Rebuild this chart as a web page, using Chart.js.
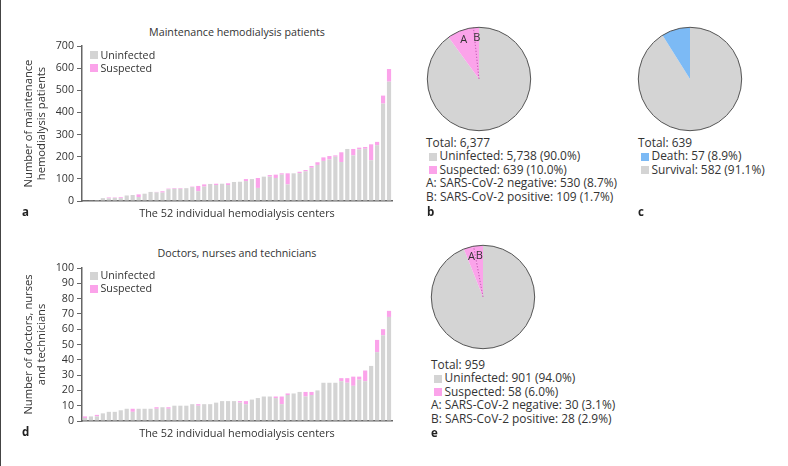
<!DOCTYPE html>
<html>
<head>
<meta charset="utf-8">
<script src="https://cdn.jsdelivr.net/npm/chart.js@4.4.0/dist/chart.umd.min.js"></script>
<style>
  body { margin: 0; background: #fff; }
  #fig { position: relative; width: 788px; height: 466px; overflow: hidden;
         font-family: "Open Sans", sans-serif; color: #333; font-size: 10.7px; }
  .abs { position: absolute; white-space: nowrap; }
  .title { width: 310px; text-align: center; font-size: 10.7px; }
  .lbl { font-weight: bold; font-size: 11.5px; color: #222; }
  .legend { line-height: 13.4px; }
  .pielegend { line-height: 13.4px; font-size: 11.9px; }
  .box { display: inline-block; width: 8px; height: 8px; margin: 0 2.5px 0 3px; vertical-align: -0.5px; }
  .edge { left: 0; top: 0; width: 1px; height: 466px; background: #444; }
</style>
</head>
<body>
<div id="fig">
  <div class="abs edge"></div>

  <div class="abs title" style="left:82px; top:25px;">Maintenance hemodialysis patients</div>
  <canvas id="chart-a" class="abs" style="left:0; top:0;" width="400" height="230"></canvas>
  <div class="abs legend" style="left:87px; top:48.5px;">
    <div><span class="box" style="background:#d4d4d4"></span>Uninfected</div>
    <div><span class="box" style="background:#fba3ea"></span>Suspected</div>
  </div>
  <div class="abs lbl" style="left:22px; top:204px;">a</div>

  <div class="abs title" style="left:82px; top:246px;">Doctors, nurses and technicians</div>
  <canvas id="chart-d" class="abs" style="left:0; top:240px;" width="400" height="210"></canvas>
  <div class="abs legend" style="left:87px; top:269px;">
    <div><span class="box" style="background:#d4d4d4"></span>Uninfected</div>
    <div><span class="box" style="background:#fba3ea"></span>Suspected</div>
  </div>
  <div class="abs lbl" style="left:22px; top:424px;">d</div>

  <canvas id="chart-b" class="abs" style="left:424px; top:24px;" width="110" height="110"></canvas>
  <div class="abs pielegend" style="left:426px; top:136px;">
    <div>Total: 6,377</div>
    <div><span class="box" style="background:#d4d4d4"></span>Uninfected: 5,738 (90.0%)</div>
    <div><span class="box" style="background:#fba3ea"></span>Suspected: 639 (10.0%)</div>
    <div>A: SARS-CoV-2 negative: 530 (8.7%)</div>
    <div>B: SARS-CoV-2 positive: 109 (1.7%)</div>
  </div>
  <div class="abs lbl" style="left:427px; top:204px;">b</div>

  <canvas id="chart-c" class="abs" style="left:635px; top:24px;" width="110" height="110"></canvas>
  <div class="abs pielegend" style="left:638px; top:136px;">
    <div>Total: 639</div>
    <div><span class="box" style="background:#7cbaf5"></span>Death: 57 (8.9%)</div>
    <div><span class="box" style="background:#d4d4d4"></span>Survival: 582 (91.1%)</div>
  </div>
  <div class="abs lbl" style="left:638px; top:204px;">c</div>

  <canvas id="chart-e" class="abs" style="left:428px; top:242px;" width="110" height="110"></canvas>
  <div class="abs pielegend" style="left:431px; top:358px;">
    <div>Total: 959</div>
    <div><span class="box" style="background:#d4d4d4"></span>Uninfected: 901 (94.0%)</div>
    <div><span class="box" style="background:#fba3ea"></span>Suspected: 58 (6.0%)</div>
    <div>A: SARS-CoV-2 negative: 30 (3.1%)</div>
    <div>B: SARS-CoV-2 positive: 28 (2.9%)</div>
  </div>
  <div class="abs lbl" style="left:431px; top:425px;">e</div>
</div>

<script>
(function() {
    'use strict';

    // Panel a: maintenance hemodialysis patients per center (52 centers)
    const patientsUninfected = [2, 3, 4, 13, 12, 14, 13, 25, 27, 18, 33, 41, 39,
        38, 53, 55, 55, 58, 63, 44, 65, 77, 72,
        78, 72, 86, 87, 90, 99, 59, 110, 110, 104,
        119, 75, 125, 126, 134, 150, 163, 181, 188, 200,
        176, 235, 206, 233, 236, 184, 252, 440, 539];
    const patientsSuspected = [0, 0, 0, 0, 4, 2, 4, 0, 0, 12, 0, 0, 2,
        6, 3, 3, 3, 0, 2, 24, 10, 0, 6,
        0, 8, 0, 0, 9, 0, 45, 0, 7, 15,
        6, 50, 0, 6, 6, 8, 12, 16, 15, 6,
        44, 0, 29, 8, 8, 72, 15, 36, 57];

    // Panel d: doctors, nurses and technicians per center
    const staffUninfected = [2, 3, 3, 5, 6, 6, 7, 8, 6, 8, 8, 8, 8, 9, 8, 10, 10, 10,
        11, 10, 11, 11, 12, 13, 13, 13, 12, 11, 14, 15, 16, 16, 15, 11,
        17, 18, 19, 16, 17, 20, 25, 25, 25, 26, 25, 23, 27, 26, 36, 45, 56, 68];
    const staffSuspected = [1, 0, 1, 0, 0, 0, 0, 0, 2, 0, 0, 0, 1, 0, 1, 0, 0, 0,
        0, 1, 0, 0, 0, 0, 0, 0, 1, 2, 0, 0, 0, 0, 1, 5,
        1, 0, 0, 3, 2, 0, 0, 0, 0, 2, 3, 6, 2, 7, 0, 8, 4, 4];

    const centers = patientsUninfected.map((v, i) => 'Center ' + (i + 1));

    // Pie values
    const patientsPie = [5738, 530, 109];   // uninfected, SARS-CoV-2 negative, positive
    const outcomePie = [582, 57];           // survival, death
    const staffPie = [901, 30, 28];

    const GRAY = '#d4d4d4';
    const PINK = '#fba3ea';
    const BLUE = '#7cbaf5';
    const AXIS = '#666';
    const TEXT = '#333';
    const FONT = '"Open Sans", sans-serif';

    Chart.defaults.font.family = FONT;
    Chart.defaults.color = TEXT;

    // Stacked bar chart for one panel
    function createBarChart(id, uninf, susp, yMax, yStep, yTitle, padTop) {
        const ctx = document.getElementById(id);
        return new Chart(ctx, {
            type: 'bar',
            data: {
                labels: centers,
                datasets: [{
                    label: 'Uninfected',
                    data: uninf,
                    backgroundColor: GRAY,
                    barPercentage: 0.7,
                    categoryPercentage: 1
                }, {
                    label: 'Suspected',
                    data: susp,
                    backgroundColor: PINK,
                    barPercentage: 0.7,
                    categoryPercentage: 1
                }]
            },
            options: {
                responsive: false,
                animation: false,
                devicePixelRatio: 1,
                layout: { padding: { top: padTop, right: 8, left: 0, bottom: 0 } },
                plugins: {
                    legend: { display: false },
                    tooltip: { enabled: false }
                },
                scales: {
                    x: {
                        stacked: true,
                        ticks: { display: false },
                        grid: { display: false },
                        border: { color: AXIS, width: 1.5 },
                        title: {
                            display: true,
                            text: 'The 52 individual hemodialysis centers',
                            color: TEXT,
                            font: { size: 10.9, lineHeight: 1.3 },
                            padding: { top: 0, bottom: 9 }
                        },
                        afterFit: function(scale) { scale.height = 29; }
                    },
                    y: {
                        stacked: true,
                        min: 0,
                        max: yMax,
                        ticks: { stepSize: yStep, autoSkip: false, color: TEXT, font: { size: 10.7 }, padding: 3 },
                        grid: { drawOnChartArea: false, drawTicks: true, tickLength: 5, color: AXIS, lineWidth: 1 },
                        border: { color: AXIS, width: 1.5 },
                        title: {
                            display: true,
                            text: yTitle,
                            color: TEXT,
                            font: { size: 11.2, lineHeight: 1.17 },
                            padding: { top: 22.5, bottom: 0 }
                        },
                        afterFit: function(scale) { scale.width = 82; }
                    }
                }
            }
        });
    }

    // Outline, dotted split line and A/B labels for the pies
    const pieDecor = {
        id: 'pieDecor',
        afterDatasetsDraw(chart, args, opts) {
            const arcs = chart.getDatasetMeta(0).data;
            const first = arcs[0];
            const ctx = chart.ctx;
            const r = first.outerRadius;
            ctx.save();
            if (opts.splitIndex != null) {
                const a = arcs[opts.splitIndex].startAngle;
                ctx.setLineDash([1.5, 1.5]);
                ctx.strokeStyle = '#c55bb3';
                ctx.lineWidth = 1;
                ctx.beginPath();
                ctx.moveTo(first.x, first.y);
                ctx.lineTo(first.x + Math.cos(a) * r, first.y + Math.sin(a) * r);
                ctx.stroke();
                ctx.setLineDash([]);
            }
            ctx.strokeStyle = '#555';
            ctx.lineWidth = 1;
            ctx.beginPath();
            ctx.arc(first.x, first.y, r, 0, Math.PI * 2);
            ctx.stroke();
            (opts.labels || []).forEach(function(l) {
                const el = arcs[l.index];
                const mid = (el.startAngle + el.endAngle) / 2;
                ctx.fillStyle = TEXT;
                ctx.font = '11px ' + FONT;
                ctx.textAlign = 'center';
                ctx.textBaseline = 'middle';
                ctx.fillText(l.text, first.x + Math.cos(mid) * r * l.f, first.y + Math.sin(mid) * r * l.f);
            });
            ctx.restore();
        }
    };

    function createPie(id, values, colors, decor) {
        const ctx = document.getElementById(id);
        return new Chart(ctx, {
            type: 'pie',
            data: {
                labels: values.map((v, i) => 'slice ' + i),
                datasets: [{ data: values, backgroundColor: colors, borderWidth: 0 }]
            },
            options: {
                responsive: false,
                animation: false,
                devicePixelRatio: 1,
                layout: { padding: 3.3 },
                plugins: {
                    legend: { display: false },
                    tooltip: { enabled: false },
                    pieDecor: decor
                }
            },
            plugins: [pieDecor]
        });
    }

    createBarChart('chart-a', patientsUninfected, patientsSuspected, 700, 100,
        ['Number of maintenance', 'hemodialysis patients'], 46);
    createBarChart('chart-d', staffUninfected, staffSuspected, 100, 10,
        ['Number of doctors, nurses', 'and technicians'], 28);

    createPie('chart-b', patientsPie, [GRAY, PINK, PINK], {
        splitIndex: 2,
        labels: [{ index: 1, text: 'A', f: 0.82 }, { index: 2, text: 'B', f: 0.8 }]
    });
    createPie('chart-c', outcomePie, [GRAY, BLUE], {});
    createPie('chart-e', staffPie, [GRAY, PINK, PINK], {
        splitIndex: 2,
        labels: [{ index: 1, text: 'A', f: 0.8 }, { index: 2, text: 'B', f: 0.8 }]
    });
})();
</script>
</body>
</html>
